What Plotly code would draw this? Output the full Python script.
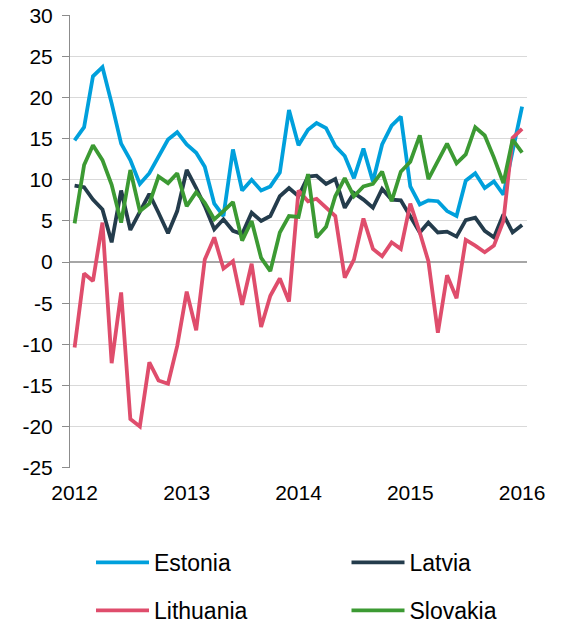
import pandas as pd
import plotly.graph_objects as go

# Monthly observations, January 2012 to January 2016
months = pd.date_range("2012-01-01", "2016-01-01", freq="MS")

estonia = [14.8, 16.4, 22.6, 23.7, 19.3, 14.4, 12.4, 9.5, 10.8, 12.9, 14.9, 15.8, 14.3,
           13.3, 11.6, 7.1, 5.6, 13.7, 8.7, 10.0, 8.7, 9.2, 10.9, 18.5, 14.2,
           16.1, 16.9, 16.3, 14.1, 12.9, 10.2, 13.8, 9.8, 14.3, 16.6, 17.7,
           9.2, 7.0, 7.5, 7.4, 6.2, 5.6, 9.9, 10.8, 9.0, 9.8, 8.2, 13.5, 18.9]
latvia = [9.3, 9.1, 7.6, 6.4, 2.4, 8.7, 3.9, 6.0, 8.3, 6.0, 3.5, 6.2, 11.2,
          9.0, 6.8, 4.0, 5.2, 3.8, 3.4, 6.0, 5.0, 5.6, 8.0, 9.0, 8.0,
          10.4, 10.5, 9.5, 10.1, 6.6, 8.4, 7.6, 6.6, 8.9, 7.6, 7.5,
          5.5, 3.6, 4.8, 3.6, 3.7, 3.1, 5.1, 5.4, 3.8, 3.0, 5.8, 3.6, 4.5]
lithuania = [-10.4, -1.4, -2.3, 4.8, -12.3, -3.7, -19.1, -20.0, -12.2, -14.4, -14.8, -10.2, -3.6,
             -8.3, 0.3, 3.0, -0.8, 0.1, -5.2, -0.2, -7.9, -4.1, -2.0, -4.8, 8.7,
             7.4, 7.7, 6.7, 5.6, -1.9, 0.3, 5.3, 1.6, 0.7, 2.4, 1.6,
             7.1, 3.6, 0.1, -8.6, -1.6, -4.4, 2.7, 2.0, 1.2, 2.0, 5.0, 15.1, 16.2]
slovakia = [4.7, 11.8, 14.2, 12.4, 9.4, 4.8, 11.2, 6.2, 7.1, 10.4, 9.6, 10.8, 6.8,
            8.5, 7.2, 5.2, 6.2, 7.3, 2.6, 5.0, 0.5, -1.1, 3.6, 5.6, 5.5,
            10.7, 3.0, 4.3, 8.0, 10.2, 8.0, 9.2, 9.5, 11.0, 7.4, 11.0,
            12.2, 15.4, 10.1, 12.2, 14.4, 12.0, 13.1, 16.4, 15.4, 12.7, 9.6, 14.9, 13.3]

year_ticks = ["2012-01-01", "2013-01-01", "2014-01-01", "2015-01-01", "2016-01-01"]
year_labels = ["2012", "2013", "2014", "2015", "2016"]
value_ticks = [-25, -20, -15, -10, -5, 0, 5, 10, 15, 20, 25, 30]
value_labels = ["-25", "-20", "-15", "-10", "-5", "0", "5", "10", "15", "20", "25", "30"]

series = [
    ("Estonia", estonia, "#00A0DC", "legend"),
    ("Latvia", latvia, "#243C4C", "legend2"),
    ("Lithuania", lithuania, "#DF4D6C", "legend"),
    ("Slovakia", slovakia, "#3C9A33", "legend2"),
]

fig = go.Figure()
for name, values, color, leg in series:
    fig.add_trace(go.Scatter(
        x=months, y=values, name=name, mode="lines",
        line=dict(color=color, width=3.8),
        legend=leg, legendgroup=name,
    ))

legend_common = dict(
    orientation="v", xanchor="left", yanchor="top",
    font=dict(size=23, color="#000000"),
    tracegroupgap=15, itemwidth=53,
    bgcolor="rgba(0,0,0,0)",
)

fig.update_layout(
    width=562, height=621,
    margin=dict(l=70, r=35, t=15, b=153, autoexpand=False),
    paper_bgcolor="white", plot_bgcolor="white",
    font=dict(family="Liberation Sans, Arial, sans-serif", size=21, color="#000000"),
    showlegend=True,
    legend=dict(x=(91 - 70) / 457, y=(468 - 541) / 453, **legend_common),
    legend2=dict(x=(346.5 - 70) / 457, y=(468 - 541) / 453, **legend_common),
    xaxis=dict(
        range=["2011-12-17", "2016-01-17"],
        tickmode="array", tickvals=year_ticks, ticktext=year_labels,
        showgrid=False, zeroline=False, showline=False, ticks="",
        ticklabelstandoff=10,
    ),
    yaxis=dict(
        range=[-25.05, 30.05],
        tickmode="array", tickvals=value_ticks, ticktext=value_labels,
        showgrid=True, gridcolor="#d9d9d9", gridwidth=1,
        zeroline=True, zerolinecolor="#a6a6a6", zerolinewidth=1.5,
        showline=True, linecolor="#8c8c8c", linewidth=1,
        ticks="outside", ticklen=7, tickcolor="#8c8c8c",
        ticklabelstandoff=5,
    ),
)

fig.write_html("out.html")
